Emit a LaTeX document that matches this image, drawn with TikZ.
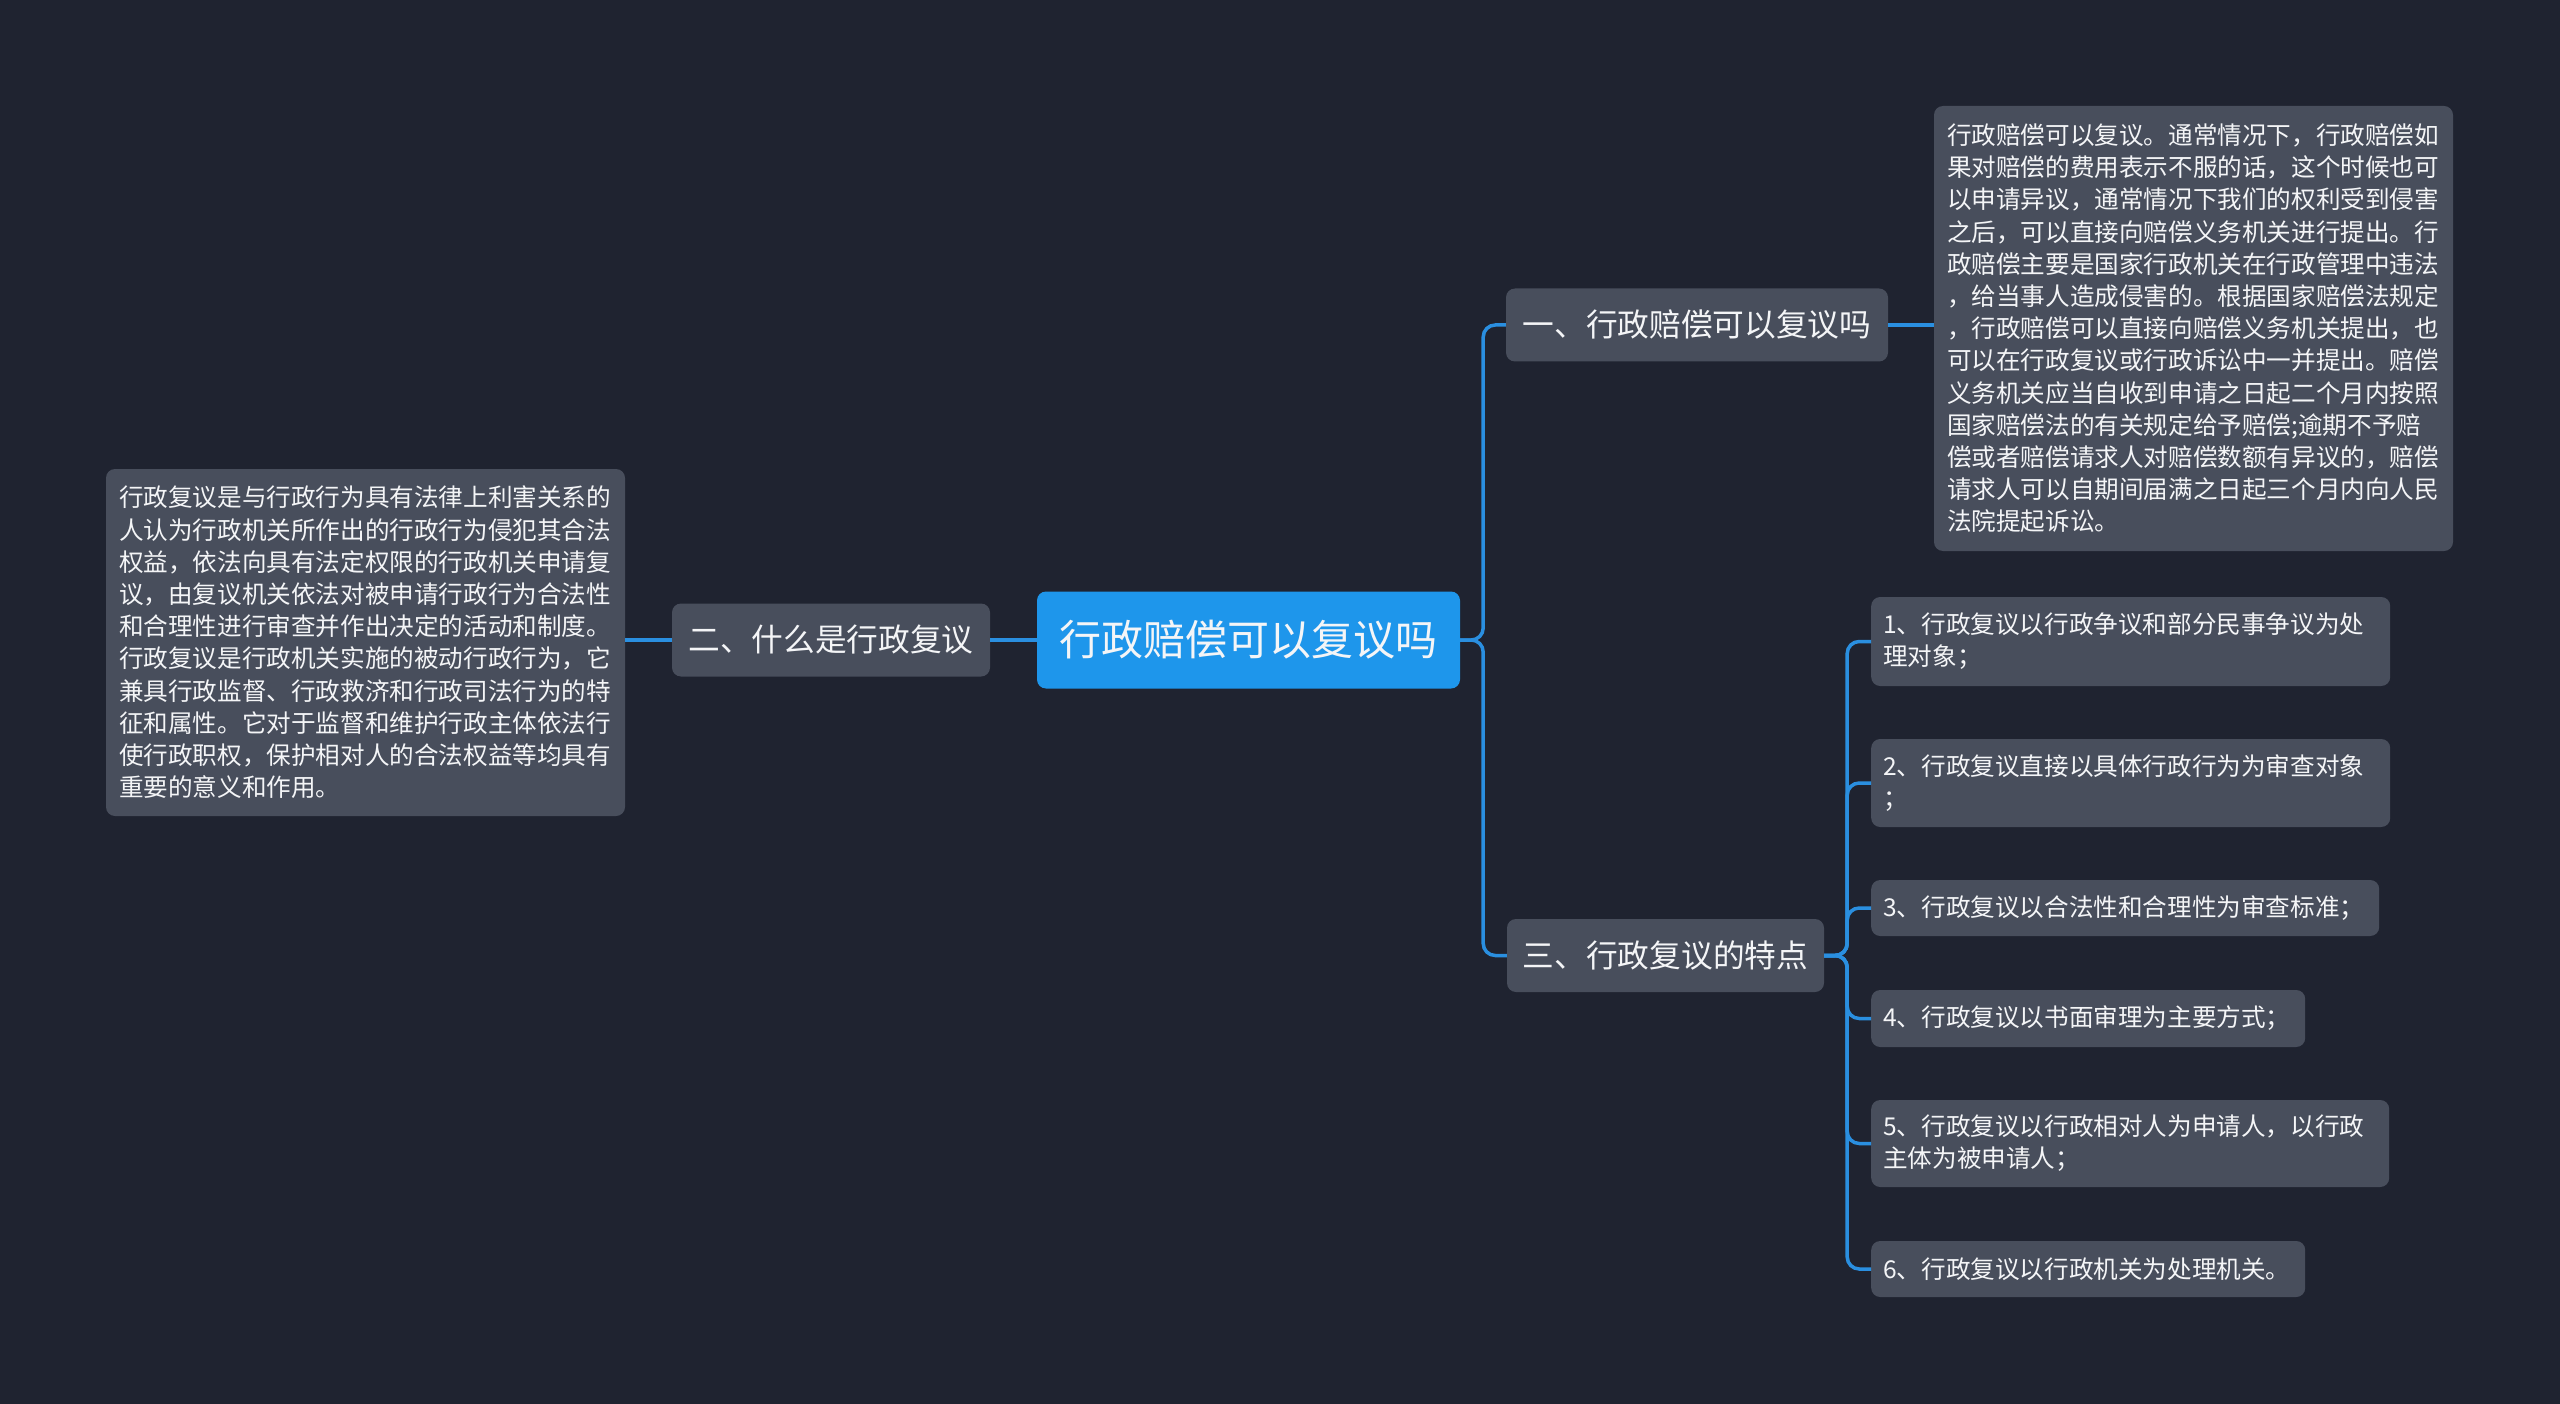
\documentclass[tikz,border=0pt]{standalone}
\usepackage{fontspec}
\setmainfont{Noto Sans CJK SC}
\definecolor{bgc}{HTML}{1F2330}
\definecolor{boxc}{HTML}{484E5C}
\definecolor{mainc}{HTML}{1E96EB}
\definecolor{linec}{HTML}{2A8FE0}
\definecolor{txtc}{HTML}{F4F5F7}
\tikzset{
  basebox/.style={rectangle, rounded corners=9pt, inner sep=0pt, text=txtc},
  mainbox/.style={basebox, fill=mainc, minimum width=423pt, minimum height=97pt, font=\fontsize{42}{50}\selectfont},
  branchbox/.style={basebox, fill=boxc, minimum height=73pt, font=\fontsize{31.7}{38}\selectfont},
  itembox/.style={basebox, fill=boxc, anchor=west, inner xsep=12pt, align=left, font=\fontsize{24.6}{32}\selectfont},
  detailbox/.style={basebox, fill=boxc, inner xsep=13pt, text width=493pt, align=left, font=\fontsize{24.6}{32.2}\selectfont},
  conn/.style={draw=linec, line width=3.5pt, rounded corners=12pt}
}
\begin{document}
\begin{tikzpicture}[x=1pt,y=-1pt]
\fill[bgc] (0,0) rectangle (2560,1404);
\useasboundingbox (0,0) rectangle (2560,1404);

\node[mainbox] (c) at (1248.5,640) {行政赔偿可以复议吗};
\node[branchbox, minimum width=382pt] (b1) at (1697,325) {一、行政赔偿可以复议吗};
\node[branchbox, minimum width=318pt] (b2) at (831,640) {二、什么是行政复议};
\node[branchbox, minimum width=317pt] (b3) at (1665.5,955.5) {三、行政复议的特点};

\node[detailbox, minimum height=445pt] (dR) at (2193.5,328.5) {行政赔偿可以复议。通常情况下，行政赔偿如\\
果对赔偿的费用表示不服的话，这个时候也可\\
以申请异议，通常情况下我们的权利受到侵害\\
之后，可以直接向赔偿义务机关进行提出。行\\
政赔偿主要是国家行政机关在行政管理中违法\\
，给当事人造成侵害的。根据国家赔偿法规定\\
，行政赔偿可以直接向赔偿义务机关提出，也\\
可以在行政复议或行政诉讼中一并提出。赔偿\\
义务机关应当自收到申请之日起二个月内按照\\
国家赔偿法的有关规定给予赔偿;逾期不予赔\\
偿或者赔偿请求人对赔偿数额有异议的，赔偿\\
请求人可以自期间届满之日起三个月内向人民\\
法院提起诉讼。};

\node[detailbox, minimum height=347pt] (dL) at (365.5,642.5) {行政复议是与行政行为具有法律上利害关系的\\
人认为行政机关所作出的行政行为侵犯其合法\\
权益，依法向具有法定权限的行政机关申请复\\
议，由复议机关依法对被申请行政行为合法性\\
和合理性进行审查并作出决定的活动和制度。\\
行政复议是行政机关实施的被动行政行为，它\\
兼具行政监督、行政救济和行政司法行为的特\\
征和属性。它对于监督和维护行政主体依法行\\
使行政职权，保护相对人的合法权益等均具有\\
重要的意义和作用。};

\node[itembox, text width=495pt, minimum height=89pt] (i1) at (1871,641.5) {1、行政复议以行政争议和部分民事争议为处\\理对象；};
\node[itembox, text width=495pt, minimum height=88pt] (i2) at (1871,783) {2、行政复议直接以具体行政行为为审查对象\\；};
\node[itembox, text width=484pt, minimum height=56pt] (i3) at (1871,908) {3、行政复议以合法性和合理性为审查标准；};
\node[itembox, text width=410pt, minimum height=57pt] (i4) at (1871,1018.5) {4、行政复议以书面审理为主要方式；};
\node[itembox, text width=494pt, minimum height=87pt] (i5) at (1871,1143.5) {5、行政复议以行政相对人为申请人，以行政\\主体为被申请人；};
\node[itembox, text width=410pt, minimum height=56pt] (i6) at (1871,1269) {6、行政复议以行政机关为处理机关。};

\draw[conn] (c.west) -- (b2.east);
\draw[conn] (b2.west) -- (b2.west -| dL.east);
\draw[conn] (c.east) -- ++(23,0) |- (b1.west);
\draw[conn] (c.east) -- ++(23,0) |- (b3.west);
\draw[conn] (b1.east) -- (b1.east -| dR.west);
\foreach \i in {i1,i2,i3,i4,i5,i6}{
  \draw[conn] (b3.east) -- ++(23,0) |- (\i.west);
}
\end{tikzpicture}
\end{document}
